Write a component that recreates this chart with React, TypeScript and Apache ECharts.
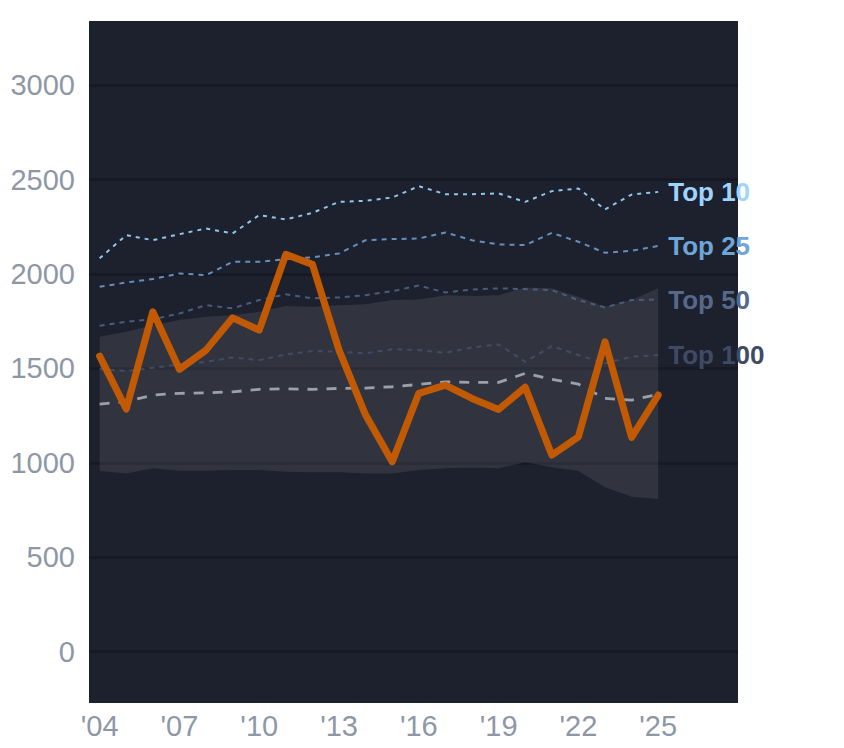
import React, { useEffect, useRef } from "react";
import * as echarts from "echarts";

const years = [2004, 2005, 2006, 2007, 2008, 2009, 2010, 2011, 2012, 2013, 2014, 2015, 2016, 2017, 2018, 2019, 2020, 2021, 2022, 2023, 2024, 2025];
const top10 = [2083, 2206, 2179, 2211, 2241, 2215, 2312, 2289, 2324, 2382, 2388, 2405, 2465, 2423, 2423, 2427, 2382, 2439, 2453, 2342, 2421, 2435];
const top25 = [1932, 1955, 1973, 2003, 1994, 2065, 2065, 2079, 2088, 2109, 2179, 2185, 2188, 2220, 2179, 2157, 2153, 2218, 2171, 2112, 2123, 2149];
const top50 = [1726, 1747, 1760, 1791, 1835, 1818, 1862, 1893, 1871, 1876, 1888, 1909, 1939, 1902, 1918, 1924, 1920, 1915, 1862, 1823, 1862, 1865];
const top100 = [1497, 1486, 1503, 1521, 1535, 1558, 1544, 1574, 1592, 1588, 1580, 1602, 1597, 1583, 1611, 1627, 1535, 1618, 1571, 1527, 1562, 1571];
const median = [1311, 1324, 1359, 1368, 1371, 1376, 1389, 1392, 1389, 1394, 1396, 1403, 1415, 1429, 1426, 1426, 1474, 1442, 1417, 1341, 1332, 1363];
const bandHigh = [1668, 1694, 1729, 1756, 1773, 1782, 1800, 1830, 1826, 1835, 1840, 1862, 1865, 1888, 1883, 1888, 1929, 1924, 1879, 1826, 1862, 1924];
const bandLow = [957, 944, 971, 958, 958, 962, 962, 953, 950, 950, 944, 944, 962, 971, 974, 971, 1003, 976, 957, 870, 821, 808];
const actual = [1565, 1285, 1800, 1495, 1597, 1768, 1703, 2104, 2051, 1597, 1253, 1006, 1368, 1412, 1341, 1283, 1400, 1041, 1138, 1641, 1135, 1359];

const xTicks = [2004, 2007, 2010, 2013, 2016, 2019, 2022, 2025];
const yTicks = [0, 500, 1000, 1500, 2000, 2500, 3000];

const pairs = (vals: number[]) => years.map((y, i) => [y, vals[i]]);

export default function App() {
  const ref = useRef<HTMLDivElement>(null);
  useEffect(() => {
    document.body.style.margin = "0";
    const chart = echarts.init(ref.current!, undefined, { renderer: "svg" });
    const font = "Liberation Sans, Arial, Helvetica, sans-serif";
    const tierLine = (name: string, vals: number[], color: string, dash: number[], labelColor: string) => ({
      type: "line",
      name,
      data: pairs(vals),
      symbol: "none",
      z: 3,
      lineStyle: { color, width: 2, type: dash },
      endLabel: {
        show: true,
        formatter: name,
        color: labelColor,
        fontSize: 26,
        fontWeight: "bold",
        fontFamily: font,
        distance: 10,
      },
    });
    chart.setOption({
      animation: false,
      grid: {
        left: 89,
        top: 21,
        right: 106,
        bottom: 45,
        show: true,
        backgroundColor: "#1d202d",
        borderWidth: 0,
      },
      xAxis: {
        type: "value",
        min: 2003.6,
        max: 2028,
        axisLine: { show: false },
        axisTick: { show: false, customValues: xTicks },
        splitLine: { show: false },
        axisLabel: {
          customValues: xTicks,
          formatter: (v: number) => "'" + String(v).slice(2),
          color: "#8e97a6",
          fontSize: 29,
          fontFamily: font,
          margin: 8,
        },
      },
      yAxis: {
        type: "value",
        min: -272,
        max: 3340,
        axisLine: { show: false },
        axisTick: { show: false, customValues: yTicks },
        splitLine: { show: true, lineStyle: { color: "#161923", width: 2.5 } },
        axisLabel: {
          customValues: yTicks,
          formatter: (v: number) => String(v),
          color: "#8e97a6",
          fontSize: 29,
          fontFamily: font,
          margin: 14,
        },
      },
      series: [
        {
          type: "custom",
          name: "band",
          data: years.map((y, i) => [y, bandLow[i], bandHigh[i]]),
          z: 1,
          silent: true,
          renderItem: (params: any, api: any) => {
            if (params.dataIndex !== 0) return null;
            const upper = years.map((y, i) => api.coord([y, bandHigh[i]]));
            const lower = years.map((y, i) => api.coord([y, bandLow[i]])).reverse();
            return {
              type: "polygon",
              shape: { points: upper.concat(lower) },
              style: { fill: "rgba(255,255,255,0.092)" },
            };
          },
        },
        tierLine("Top 10", top10, "#8fc6ee", [4, 5], "#9fd4ff"),
        tierLine("Top 25", top25, "#6490bf", [5, 5], "#6fa5d8"),
        tierLine("Top 50", top50, "#4a5c7c", [5, 5], "#55698a"),
        tierLine("Top 100", top100, "#404b65", [5, 5], "#3f4b64"),
        {
          type: "line",
          name: "median",
          data: pairs(median),
          symbol: "none",
          z: 4,
          lineStyle: { color: "#9aa1ad", width: 2.8, type: [10, 9] },
        },
        {
          type: "line",
          name: "actual",
          data: pairs(actual),
          symbol: "none",
          z: 5,
          lineStyle: { color: "#c25a04", width: 7, join: "round", cap: "round" },
        },
      ],
    });
    return () => chart.dispose();
  }, []);
  return <div ref={ref} style={{ width: 844, height: 748 }} />;
}
